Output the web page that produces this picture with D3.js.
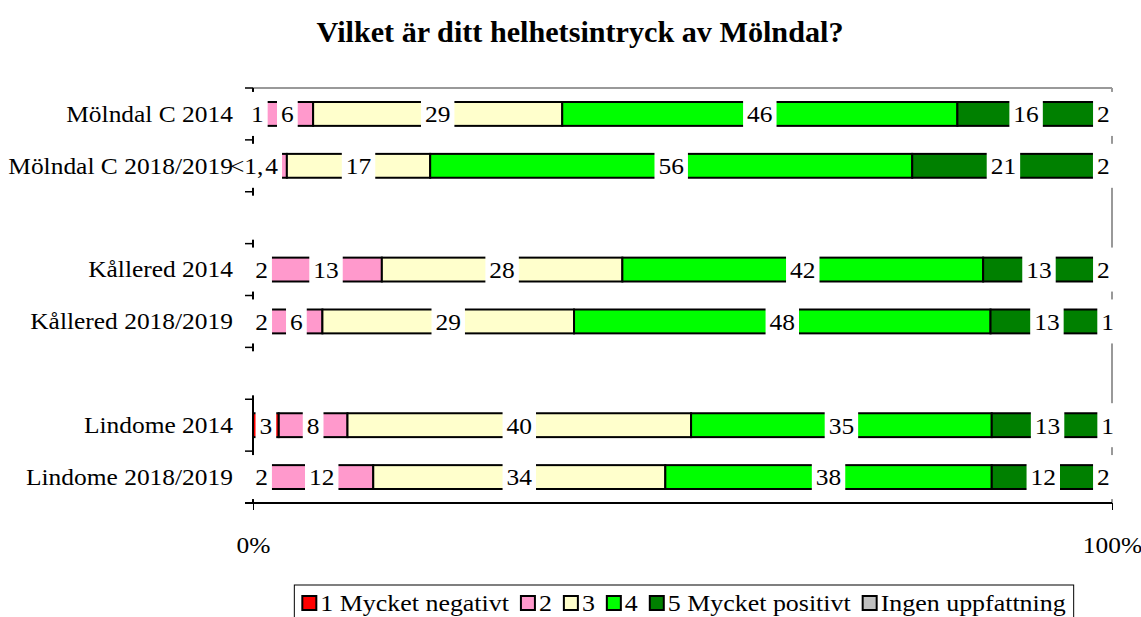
<!DOCTYPE html>
<html lang="sv">
<head>
<meta charset="UTF-8">
<title>Helhetsintryck av Mölndal</title>
<script src="https://d3js.org/d3.v7.min.js"></script>
<style>
  body { margin: 0; background: #fff; }
  text { font-family: "Liberation Serif", "Times New Roman", serif; fill: #000; }
</style>
</head>
<body>
<svg id="chart" width="1141" height="617"></svg>
<script>
// categories, "" = empty spacer rows
const categories = ["Mölndal C 2014", "Mölndal C 2018/2019", "", "Kållered 2014", "Kållered 2018/2019", "", "Lindome 2014", "Lindome 2018/2019"];
const seriesNames = ["1 Mycket negativt", "2", "3", "4", "5 Mycket positivt", "Ingen uppfattning"];
const colors = ["#ff0000", "#ff99cc", "#ffffcc", "#00ff00", "#008000", "#c0c0c0"];

// percent per answer, one array per series, rows in category order (null = spacer)
// labels show the rounded value
const negativ1 = [1, 0.4, null, 2, 2, null, 3, 2];
const svar2 = [6, 3.5, null, 13, 6, null, 8, 12];
const svar3 = [29, 16.5, null, 28, 29, null, 40, 34];
const svar4 = [46, 55.5, null, 42, 48, null, 35, 38];
const positiv5 = [16, 21, null, 13, 13, null, 13, 12];
const ingen = [2, 2, null, 2, 1, null, 1, 2];
// label shown for the small first value in row 2 (row-series)
const specialLabels = { "1-0": { txt: "<1,", dx: -8 } };

const xTicks = [0, 100];

const svg = d3.select("#chart");
const fs = 24;
const wide = 1.06; // glyphs in the picture are a bit wider than the font

function stretch(sel, k) {
    sel.each(function () {
        const w = this.getComputedTextLength();
        if (w > 0) d3.select(this).attr("textLength", w * k).attr("lengthAdjust", "spacingAndGlyphs");
    });
}

const allSeries = [negativ1, svar2, svar3, svar4, positiv5, ingen];
const rows = categories.map((c, i) => {
    const r = { key: "r" + i, name: c, blank: c === "" };
    seriesNames.forEach((s, j) => r[s] = allSeries[j][i] || 0);
    return r;
});

const x = d3.scaleLinear().domain([0, 1]).range([253, 1112]);
const y = d3.scaleBand().domain(rows.map(d => d.key)).range([88, 503])
    .paddingInner(0.54).paddingOuter(0.27);

const stack = d3.stack().keys(seriesNames).offset(d3.stackOffsetExpand);
const stacked = stack(rows.filter(d => !d.blank));

// title
svg.append("text")
    .attr("x", 580).attr("y", 42)
    .attr("text-anchor", "middle")
    .style("font-size", "29px").style("font-weight", "bold")
    .text("Vilket är ditt helhetsintryck av Mölndal?")
    .call(stretch, 1.04);

// plot border (gray top/right), left axis line
svg.append("line").attr("x1", 253).attr("x2", 1112).attr("y1", 88).attr("y2", 88)
    .attr("stroke", "#999").attr("stroke-width", 2);
svg.append("line").attr("x1", 1112).attr("x2", 1112).attr("y1", 88).attr("y2", 503)
    .attr("stroke", "#999").attr("stroke-width", 2);
svg.append("line").attr("x1", 253).attr("x2", 253).attr("y1", 88).attr("y2", 503)
    .attr("stroke", "#000").attr("stroke-width", 2);

// left ticks at band boundaries
svg.append("g").selectAll("line")
    .data(d3.range(rows.length + 1))
    .join("line")
    .attr("x1", 245).attr("x2", 253)
    .attr("y1", i => 88 + i * (415 / rows.length))
    .attr("y2", i => 88 + i * (415 / rows.length))
    .attr("stroke", "#000").attr("stroke-width", 1.5);

// bars
svg.append("g").selectAll("g")
    .data(stacked)
    .join("g")
    .attr("fill", (d, i) => colors[i])
    .selectAll("rect")
    .data(d => d)
    .join("rect")
    .attr("x", d => x(d[0]))
    .attr("width", d => x(d[1]) - x(d[0]))
    .attr("y", d => y(d.data.key))
    .attr("height", y.bandwidth())
    .attr("stroke", "#000")
    .attr("stroke-width", 2);

// data labels with white boxes
const labels = [];
stacked.forEach((s, si) => {
    s.forEach(d => {
        const ri = rows.indexOf(d.data);
        const sp = specialLabels[ri + "-" + si];
        labels.push({
            cx: x((d[0] + d[1]) / 2) + (sp ? sp.dx : 0),
            cy: y(d.data.key) + y.bandwidth() / 2,
            txt: sp ? sp.txt : String(Math.round(d.data[s.key]))
        });
    });
});
// spacer rows: empty boxes at the axis
rows.filter(d => d.blank).forEach(d => labels.push({ cx: 253, cy: y(d.key) + y.bandwidth() / 2, txt: "" }));

const lg = svg.append("g");
const boxes = lg.selectAll("rect").data(labels).join("rect").attr("fill", "#fff");
const texts = lg.selectAll("text").data(labels).join("text")
    .attr("x", d => d.cx).attr("y", d => d.cy)
    .attr("dy", "0.35em")
    .attr("text-anchor", "middle")
    .style("font-size", fs + "px")
    .text(d => d.txt);
texts.each(function (d) { d.w = this.getComputedTextLength() * wide; });
texts.call(stretch, wide);
boxes.attr("x", d => d.cx - (d.w || 8) / 2 - 4)
    .attr("width", d => (d.w || 8) + 8)
    .attr("y", d => d.cy - 22)
    .attr("height", 44);

// category labels
svg.append("g")
    .attr("transform", "translate(233,0)")
    .call(d3.axisLeft(y).tickSize(0).tickPadding(0).tickFormat(k => rows.find(r => r.key === k).name))
    .call(g => g.select(".domain").remove())
    .call(g => g.selectAll("text").style("font-size", fs + "px")
        .style("font-family", "'Liberation Serif', serif").attr("fill", "#000"))
    .call(g => g.selectAll("text").call(stretch, wide));

// x axis
svg.append("g")
    .attr("transform", "translate(0,503)")
    .call(d3.axisBottom(x.copy().domain([0, 100])).tickValues(xTicks).tickSize(7).tickPadding(26).tickFormat(d => d + "%"))
    .call(g => g.select(".domain").attr("d", "M245,0H1112").attr("stroke-width", 2))
    .call(g => g.selectAll("text").style("font-size", fs + "px")
        .style("font-family", "'Liberation Serif', serif").attr("fill", "#000"))
    .call(g => g.selectAll("text").call(stretch, wide));

// legend
const leg = svg.append("g");
const legBox = leg.append("rect").attr("fill", "#fff").attr("stroke", "#000").attr("stroke-width", 1);
let lx = 0;
seriesNames.forEach((s, i) => {
    const it = leg.append("g").attr("transform", `translate(${lx},0)`);
    it.append("rect").attr("x", 0).attr("y", -14).attr("width", 14).attr("height", 14)
        .attr("fill", colors[i]).attr("stroke", "#000").attr("stroke-width", 2);
    const t = it.append("text").attr("x", 18).attr("y", 1).style("font-size", fs + "px").text(s);
    const w = t.node().getComputedTextLength() * 1.08;
    t.call(stretch, 1.08);
    lx += 18 + w + 12;
});
const legW = lx - 12;
leg.attr("transform", `translate(${684 - legW / 2},610)`);
legBox.attr("x", -8).attr("y", -25).attr("width", legW + 16).attr("height", 45);
</script>
</body>
</html>
